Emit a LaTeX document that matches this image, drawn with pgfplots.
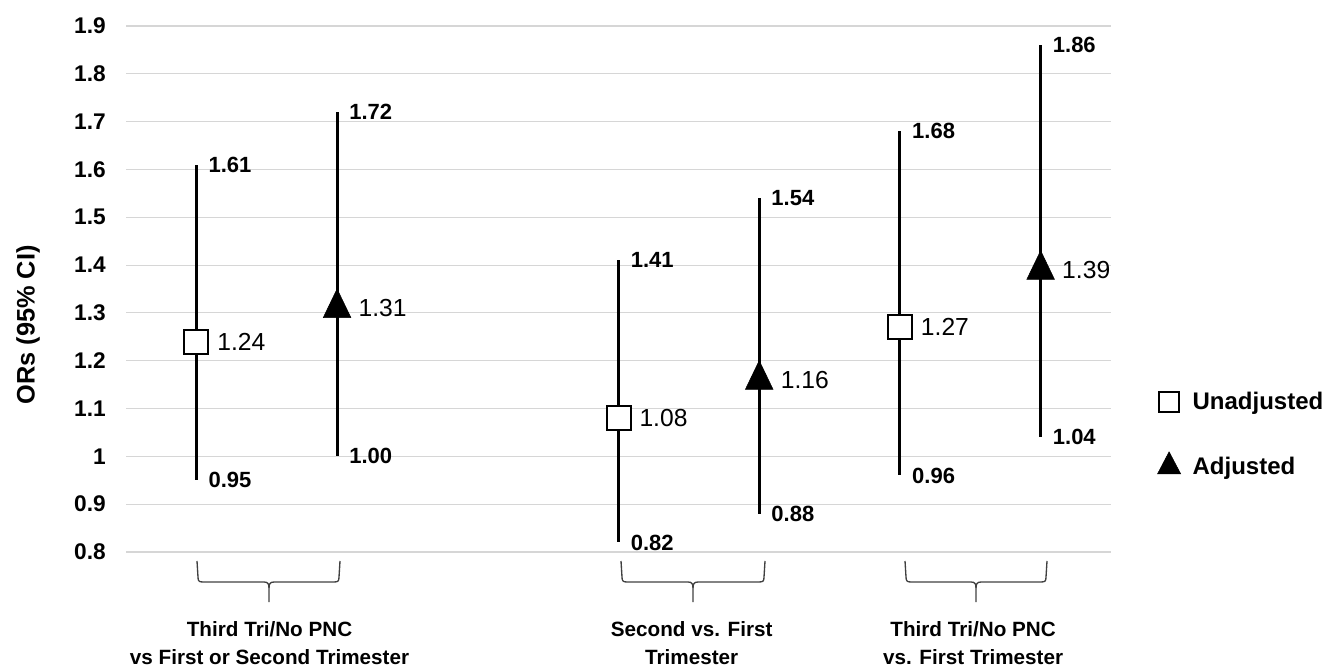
\documentclass[border=0pt]{standalone}
\usepackage{pgfplots}
\pgfplotsset{compat=1.18}
\usepackage{pgfplotstable}
\usepackage{fontspec}
\setmainfont{Liberation Sans}

\pgfplotstableread{
x y lo hi
0 1.24 0.95 1.61
3 1.08 0.82 1.41
5 1.27 0.96 1.68
}\unadj
\pgfplotstableread{
x y lo hi
1 1.31 1.00 1.72
4 1.16 0.88 1.54
6 1.39 1.04 1.86
}\adj

\newcommand{\fs}[1]{\fontsize{#1}{#1}\selectfont}

\begin{document}
\begin{tikzpicture}
\useasboundingbox (0,0) rectangle (994.5pt,500.25pt);
\begin{axis}[
  at={(94.5pt,86.25pt)}, anchor=south west, scale only axis,
  width=738.75pt, height=394.5pt,
  xmin=-0.5, xmax=6.5, ymin=0.8, ymax=1.9,
  ytick={0.8,0.9,1,1.1,1.2,1.3,1.4,1.5,1.6,1.7,1.8,1.9},
  ymajorgrids, grid style={black!16, line width=0.8pt},
  axis line style={draw=none}, major tick length=0pt,
  /pgf/number format/assume math mode=true,
  y tick label style={font=\bfseries\fs{17}, anchor=east, inner sep=0pt, xshift=-15pt},
  xtick={0.52,3.52,5.52},
  xticklabels={{Third Tri/No PNC\\vs First or Second Trimester},{Second vs. First\\Trimester},{Third Tri/No PNC\\vs. First Trimester}},
  x tick label style={font=\bfseries\fontsize{15.5}{21}\selectfont, align=center, anchor=north, inner sep=0pt, yshift=-52pt},
  ylabel={ORs (95\% CI)},
  ylabel style={at={(rel axis cs:-0.0995,0.4316)}, anchor=center, font=\bfseries\fs{19}},
  clip=false,
  legend style={at={(rel axis cs:1.047,0.305)}, anchor=north west, draw=none, fill=none,
    font=\bfseries\fs{18}, row sep=30pt, inner sep=0pt, column sep=9pt,
    nodes={inner sep=0pt}},
  legend cell align=left,
]
% confidence interval lines
\addplot[forget plot, only marks, mark=none,
  error bars/.cd, y dir=both, y explicit, error mark=none,
  error bar style={line width=2.3pt, black}]
  table[x=x, y=y, y error plus expr=\thisrow{hi}-\thisrow{y}, y error minus expr=\thisrow{y}-\thisrow{lo}] {\unadj};
\addplot[forget plot, only marks, mark=none,
  error bars/.cd, y dir=both, y explicit, error mark=none,
  error bar style={line width=2.3pt, black}]
  table[x=x, y=y, y error plus expr=\thisrow{hi}-\thisrow{y}, y error minus expr=\thisrow{y}-\thisrow{lo}] {\adj};
% markers
\addplot[forget plot, only marks, mark=square*, mark size=9pt,
  mark options={fill=white, draw=black, line width=1.5pt},
  nodes near coords, point meta=explicit symbolic,
  nodes near coords style={anchor=west, inner sep=0pt, xshift=15pt, font=\fs{18.5}, black}]
  table[x=x, y=y, meta=y] {\unadj};
\addplot[forget plot, only marks, mark=triangle*, mark size=12pt,
  mark options={fill=black, draw=black, yscale=1.2},
  nodes near coords, point meta=explicit symbolic,
  nodes near coords style={anchor=west, inner sep=0pt, xshift=16pt, font=\fs{18.5}, black}]
  table[x=x, y=y, meta=y] {\adj};
% endpoint labels
\addplot[forget plot, only marks, mark=none,
  nodes near coords, point meta=explicit symbolic,
  nodes near coords style={anchor=west, inner sep=0pt, xshift=9pt, font=\bfseries\fs{16.5}, black}]
  table[x=x, y=hi, meta=hi] {\unadj};
\addplot[forget plot, only marks, mark=none,
  nodes near coords, point meta=explicit symbolic,
  nodes near coords style={anchor=west, inner sep=0pt, xshift=9pt, font=\bfseries\fs{16.5}, black}]
  table[x=x, y=lo, meta=lo] {\unadj};
\addplot[forget plot, only marks, mark=none,
  nodes near coords, point meta=explicit symbolic,
  nodes near coords style={anchor=west, inner sep=0pt, xshift=9pt, font=\bfseries\fs{16.5}, black}]
  table[x=x, y=hi, meta=hi] {\adj};
\addplot[forget plot, only marks, mark=none,
  nodes near coords, point meta=explicit symbolic,
  nodes near coords style={anchor=west, inner sep=0pt, xshift=9pt, font=\bfseries\fs{16.5}, black}]
  table[x=x, y=lo, meta=lo] {\adj};
% legend
\addlegendimage{only marks, mark=square, mark size=7.5pt, line width=1.4pt, black}
\addlegendentry{Unadjusted}
\addlegendimage{only marks, mark=triangle*, mark size=10pt, black, mark options={yscale=1.1}}
\addlegendentry{Adjusted}
\end{axis}
% group braces (pixel coordinates)
\begin{scope}[x=0.75pt, y=-0.75pt, shift={(0pt,500.25pt)}, line width=1pt, draw=black!75]
\foreach \L/\C/\R in {198/269/339, 622/693/764, 906/976/1046}{
  \draw (\L-1,561) -- (\L,577) .. controls (\L,581) and (\L+1,582) .. (\L+5,582)
        -- (\C-5,582) .. controls (\C-1,582) and (\C,584) .. (\C,588) -- (\C,602);
  \draw (\R+1,561) -- (\R,577) .. controls (\R,581) and (\R-1,582) .. (\R-5,582)
        -- (\C+5,582) .. controls (\C+1,582) and (\C,584) .. (\C,588);
}
\end{scope}
\end{tikzpicture}
\end{document}
